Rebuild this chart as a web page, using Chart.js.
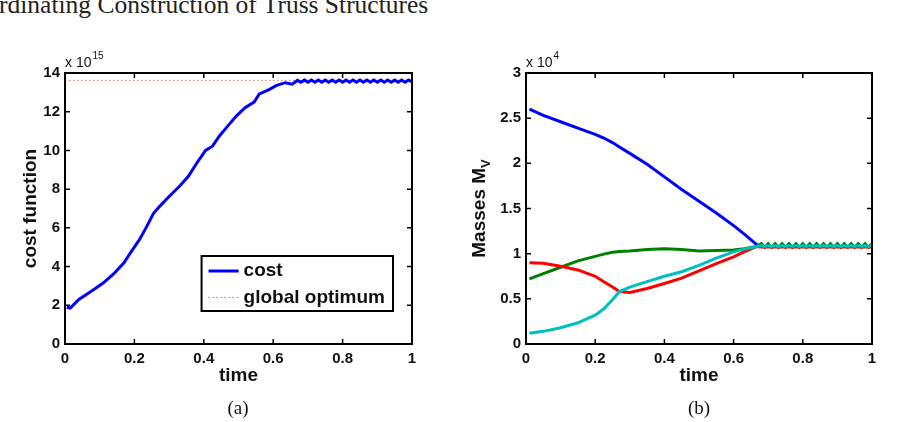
<!DOCTYPE html>
<html lang="en">
<head>
<meta charset="UTF-8">
<title>Coordinating Construction of Truss Structures</title>
<script src="https://cdn.jsdelivr.net/npm/chart.js"></script>
<style>
  body { margin: 0; background: #fff; }
  .page { position: relative; width: 901px; height: 422px; overflow: hidden; }
  .header { position: absolute; left: -1px; top: -8px; font: 25.5px/25.5px 'Liberation Serif', serif; color: #222; white-space: nowrap; }
  .caption { position: absolute; top: 397px; width: 60px; text-align: center; font: 19px/22px 'Liberation Serif', serif; color: #111; }
  canvas { position: absolute; top: 0; }
</style>
</head>
<body>
<div class="page">
  <div class="header">rdinating Construction of Truss Structures</div>
  <canvas id="costChart" width="450" height="422" style="left:0"></canvas>
  <canvas id="massChart" width="451" height="422" style="left:450px"></canvas>
  <div class="caption" style="left:208px">(a)</div>
  <div class="caption" style="left:669px">(b)</div>
</div>
<script>
// (a) cost function, in units of 1e15
const costTime = [0.005, 0.015, 0.04, 0.08, 0.11, 0.14, 0.17, 0.19, 0.215, 0.235, 0.255, 0.275, 0.3, 0.33,
  0.355, 0.38, 0.405, 0.425, 0.445, 0.47, 0.495, 0.52, 0.545, 0.56, 0.585, 0.61, 0.635, 0.655,
  0.67, 0.68, 0.69, 0.70, 0.71, 0.72, 0.73, 0.74, 0.75, 0.76, 0.77, 0.78, 0.79, 0.80, 0.81, 0.82,
  0.83, 0.84, 0.85, 0.86, 0.87, 0.88, 0.89, 0.90, 0.91, 0.92, 0.93, 0.94, 0.95, 0.96, 0.97, 0.98, 0.99, 1.0];
const costValue = [1.9, 1.86, 2.3, 2.78, 3.15, 3.62, 4.2, 4.75, 5.4, 6.05, 6.75, 7.15, 7.62, 8.15,
  8.65, 9.35, 10.0, 10.22, 10.75, 11.28, 11.8, 12.22, 12.5, 12.92, 13.12, 13.36, 13.5, 13.42,
  13.62, 13.52, 13.64, 13.52, 13.64, 13.52, 13.64, 13.52, 13.64, 13.52, 13.64, 13.52, 13.64, 13.52, 13.64, 13.52,
  13.64, 13.52, 13.64, 13.52, 13.64, 13.52, 13.64, 13.52, 13.64, 13.52, 13.64, 13.52, 13.64, 13.52, 13.64, 13.52, 13.64, 13.54];
const optimumTime = [0, 1];
const optimumValue = [13.62, 13.62];

// (b) masses, in units of 1e4
const massTime = [0.01, 0.05, 0.1, 0.15, 0.2, 0.225, 0.25, 0.27, 0.3, 0.35, 0.4, 0.45, 0.5, 0.55, 0.6, 0.63, 0.667,
  0.68, 0.69, 0.70, 0.71, 0.72, 0.73, 0.74, 0.75, 0.76, 0.77, 0.78, 0.79, 0.80, 0.81, 0.82, 0.83,
  0.84, 0.85, 0.86, 0.87, 0.88, 0.89, 0.90, 0.91, 0.92, 0.93, 0.94, 0.95, 0.96, 0.97, 0.98, 0.99, 1.0];
const massBlue = [2.60, 2.53, 2.46, 2.39, 2.32, 2.28, 2.23, 2.18, 2.11, 1.99, 1.85, 1.71, 1.58, 1.45, 1.31, 1.22, 1.10,
  1.08, 1.08, 1.08, 1.08, 1.08, 1.08, 1.08, 1.08, 1.08, 1.08, 1.08, 1.08, 1.08, 1.08, 1.08, 1.08,
  1.08, 1.08, 1.08, 1.08, 1.08, 1.08, 1.08, 1.08, 1.08, 1.08, 1.08, 1.08, 1.08, 1.08, 1.08, 1.08, 1.08];
const massGreen = [0.72, 0.78, 0.85, 0.92, 0.97, 0.995, 1.015, 1.025, 1.03, 1.045, 1.055, 1.045, 1.03, 1.035, 1.04, 1.055, 1.08,
  1.11, 1.07, 1.11, 1.07, 1.11, 1.07, 1.11, 1.07, 1.11, 1.07, 1.11, 1.07, 1.11, 1.07, 1.11, 1.07,
  1.11, 1.07, 1.11, 1.07, 1.11, 1.07, 1.11, 1.07, 1.11, 1.07, 1.11, 1.07, 1.11, 1.07, 1.11, 1.07, 1.11];
const massRed = [0.90, 0.895, 0.86, 0.82, 0.75, 0.69, 0.63, 0.58, 0.57, 0.615, 0.67, 0.73, 0.81, 0.89, 0.965, 1.02, 1.08,
  1.075, 1.075, 1.075, 1.075, 1.075, 1.075, 1.075, 1.075, 1.075, 1.075, 1.075, 1.075, 1.075, 1.075, 1.075, 1.075,
  1.075, 1.075, 1.075, 1.075, 1.075, 1.075, 1.075, 1.075, 1.075, 1.075, 1.075, 1.075, 1.075, 1.075, 1.075, 1.075, 1.075];
const massCyan = [0.12, 0.14, 0.18, 0.235, 0.32, 0.39, 0.49, 0.58, 0.63, 0.69, 0.75, 0.80, 0.87, 0.95, 1.02, 1.05, 1.08,
  1.09, 1.08, 1.09, 1.08, 1.09, 1.08, 1.09, 1.08, 1.09, 1.08, 1.09, 1.08, 1.09, 1.08, 1.09, 1.08,
  1.09, 1.08, 1.09, 1.08, 1.09, 1.08, 1.09, 1.08, 1.09, 1.08, 1.09, 1.08, 1.09, 1.08, 1.09, 1.08, 1.09];

const timeTicks = [0, 0.2, 0.4, 0.6, 0.8, 1];

const SANS = '"Liberation Sans", Arial, Helvetica, sans-serif';
const INK = '#111';
const toPoints = (xs, ys) => xs.map((x, i) => ({ x: x, y: ys[i] }));
// matlab style labels: 1 not 1.0, 0.5 stays 0.5
const plainNumber = v => String(Number(v.toFixed(3)));

// black box with inward ticks on all four sides, plus the "x 10^n" label
const matlabFrame = {
    id: 'matlabFrame',
    afterDatasetsDraw(chart, args, opts) {
        const { ctx, chartArea: a, scales } = chart;
        ctx.save();
        ctx.strokeStyle = '#000';
        ctx.lineWidth = 1.5;
        ctx.beginPath();
        scales.x.ticks.forEach(t => {
            const x = scales.x.getPixelForValue(t.value);
            ctx.moveTo(x, a.bottom); ctx.lineTo(x, a.bottom - 5);
            ctx.moveTo(x, a.top); ctx.lineTo(x, a.top + 5);
        });
        scales.y.ticks.forEach(t => {
            const y = scales.y.getPixelForValue(t.value);
            ctx.moveTo(a.left, y); ctx.lineTo(a.left + 5, y);
            ctx.moveTo(a.right, y); ctx.lineTo(a.right - 5, y);
        });
        ctx.stroke();
        ctx.lineWidth = 2;
        ctx.strokeRect(a.left, a.top, a.right - a.left, a.bottom - a.top);

        if (opts.exponent) {
            ctx.fillStyle = INK;
            ctx.textBaseline = 'alphabetic';
            ctx.font = '14px ' + SANS;
            ctx.fillText('x 10', a.left, a.top - 6);
            const w = ctx.measureText('x 10').width;
            ctx.font = '10px ' + SANS;
            ctx.fillText(opts.exponent, a.left + w + 1, a.top - 14);
        }
        ctx.restore();
    }
};

// rotated y title with optional subscript
const sideTitle = {
    id: 'sideTitle',
    afterDraw(chart, args, opts) {
        if (!opts.text) return;
        const { ctx, chartArea: a } = chart;
        const mainFont = 'bold 19px ' + SANS;
        const subFont = 'bold 13px ' + SANS;
        ctx.save();
        ctx.font = mainFont;
        const mainW = ctx.measureText(opts.text).width;
        ctx.font = subFont;
        const subW = opts.sub ? ctx.measureText(opts.sub).width : 0;
        ctx.translate(opts.x, (a.top + a.bottom) / 2);
        ctx.rotate(-Math.PI / 2);
        ctx.fillStyle = INK;
        ctx.textAlign = 'left';
        ctx.textBaseline = 'alphabetic';
        const start = -(mainW + subW) / 2;
        ctx.font = mainFont;
        ctx.fillText(opts.text, start, 0);
        if (opts.sub) {
            ctx.font = subFont;
            ctx.fillText(opts.sub, start + mainW, 5);
        }
        ctx.restore();
    }
};

// legend in a framed box inside the plot, lower right
const boxLegend = {
    id: 'boxLegend',
    afterDraw(chart, args, opts) {
        if (!opts.display) return;
        const { ctx, chartArea: a } = chart;
        const items = chart.data.datasets;
        ctx.save();
        ctx.font = 'bold 19px ' + SANS;
        const textW = Math.max(...items.map(d => ctx.measureText(d.label).width));
        const w = 42 + textW + 8, h = 55;
        const left = a.right - opts.right - w;
        const top = a.bottom - opts.bottom - h;
        ctx.fillStyle = '#fff';
        ctx.fillRect(left, top, w, h);
        ctx.strokeStyle = '#000';
        ctx.lineWidth = 2;
        ctx.strokeRect(left, top, w, h);
        items.forEach((d, i) => {
            const y = top + 15 + i * 26.5;
            ctx.strokeStyle = d.borderColor;
            ctx.lineWidth = d.borderWidth;
            ctx.setLineDash(d.borderDash || []);
            ctx.beginPath();
            ctx.moveTo(left + 7, y);
            ctx.lineTo(left + 37, y);
            ctx.stroke();
            ctx.setLineDash([]);
            ctx.fillStyle = INK;
            ctx.textBaseline = 'middle';
            ctx.fillText(d.label, left + 42, y);
        });
        ctx.restore();
    }
};

function axes(yMax, yStep, yWidth, rightPad) {
    const tickFont = { family: SANS, size: 15, weight: 'bold' };
    return {
        layout: { padding: { top: 73, right: rightPad, bottom: 0, left: 0 } },
        scales: {
            x: {
                type: 'linear', min: 0, max: 1,
                afterBuildTicks: s => { s.ticks = timeTicks.map(v => ({ value: v })); },
                afterFit: s => { s.height = 78; },
                ticks: { padding: 6, font: tickFont, color: INK, maxRotation: 0, callback: plainNumber },
                grid: { display: false, drawTicks: false },
                border: { display: false },
                title: { display: true, text: 'time', color: INK, font: { family: SANS, size: 19, weight: 'bold' }, padding: { top: 0, bottom: 35 } }
            },
            y: {
                type: 'linear', min: 0, max: yMax,
                afterFit: s => { s.width = yWidth; },
                ticks: { stepSize: yStep, padding: 5, font: tickFont, color: INK, callback: plainNumber },
                grid: { display: false, drawTicks: false },
                border: { display: false }
            }
        }
    };
}

const lineStyle = { pointRadius: 0, tension: 0, fill: false };

new Chart(document.getElementById('costChart'), {
    type: 'line',
    data: {
        datasets: [
            { label: 'cost', data: toPoints(costTime, costValue), borderColor: '#0000ff', borderWidth: 3, order: 1, ...lineStyle },
            { label: 'global optimum', data: toPoints(optimumTime, optimumValue), borderColor: '#ff5c5c', borderWidth: 1, borderDash: [1.5, 2.5], order: 2, ...lineStyle }
        ]
    },
    options: {
        responsive: false,
        animation: false,
        ...axes(14, 2, 65, 38),
        plugins: {
            legend: { display: false },
            tooltip: { enabled: false },
            matlabFrame: { exponent: '15' },
            sideTitle: { text: 'cost function', x: 36 },
            boxLegend: { display: true, right: 19, bottom: 33 }
        }
    },
    plugins: [matlabFrame, sideTitle, boxLegend]
});

new Chart(document.getElementById('massChart'), {
    type: 'line',
    data: {
        datasets: [
            { label: 'M1', data: toPoints(massTime, massBlue), borderColor: '#0000ff', borderWidth: 3, order: 4, ...lineStyle },
            { label: 'M2', data: toPoints(massTime, massGreen), borderColor: '#008000', borderWidth: 3, order: 3, ...lineStyle },
            { label: 'M3', data: toPoints(massTime, massRed), borderColor: '#ff0000', borderWidth: 3, order: 2, ...lineStyle },
            { label: 'M4', data: toPoints(massTime, massCyan), borderColor: '#00bfbf', borderWidth: 3, order: 1, ...lineStyle }
        ]
    },
    options: {
        responsive: false,
        animation: false,
        ...axes(3, 0.5, 76, 29),
        plugins: {
            legend: { display: false },
            tooltip: { enabled: false },
            matlabFrame: { exponent: '4' },
            sideTitle: { text: 'Masses M', sub: 'V', x: 35 },
            boxLegend: { display: false }
        }
    },
    plugins: [matlabFrame, sideTitle, boxLegend]
});
</script>
</body>
</html>
